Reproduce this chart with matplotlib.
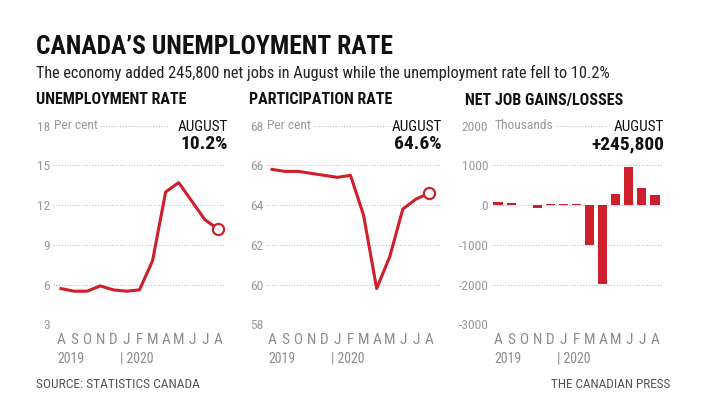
import matplotlib
matplotlib.use("Agg")
import matplotlib.pyplot as plt
from matplotlib import font_manager

months = ["A", "S", "O", "N", "D", "J", "F", "M", "A", "M", "J", "J", "A"]
unemployment = [5.7, 5.5, 5.5, 5.9, 5.6, 5.5, 5.6, 7.8, 13.0, 13.7, 12.3, 10.9, 10.2]
participation = [65.8, 65.7, 65.7, 65.6, 65.5, 65.4, 65.5, 63.5, 59.8, 61.4, 63.8, 64.3, 64.6]
net_jobs = [81, 54, -2, -71, 35, 34, 30, -1011, -1994, 290, 953, 419, 246]

unemp_ticks = [3, 6, 9, 12, 15, 18]
part_ticks = [58, 60, 62, 64, 66, 68]
jobs_ticks = [-3000, -2000, -1000, 0, 1000, 2000]

# narrow face if there is one, else Roboto
names = {f.name for f in font_manager.fontManager.ttflist}
fam = "Roboto"
for cand in ["Roboto Condensed", "Liberation Sans Narrow", "Open Sans Condensed"]:
    if cand in names:
        fam = cand
        break
plt.rcParams["font.family"] = [fam, "DejaVu Sans"]

W, H = 711, 405
RED = "#cf1f2d"
GRID = "#bdbdbd"
TICK = "#9a9a9a"
MONTH = "#8c8c8c"

fig = plt.figure(figsize=(W / 100, H / 100), dpi=100)


def fx(x):
    return x / W


def fy(y):
    return 1 - y / H


def txt(x, y, s, **kw):
    kw.setdefault("va", "center")
    return fig.text(fx(x), fy(y), s, **kw)


# title block
txt(36, 47, "CANADA\u2019S UNEMPLOYMENT RATE", size=18.4, weight="bold", color="#111111")
txt(36, 73, "The economy added 245,800 net jobs in August while the unemployment rate fell to 10.2%",
    size=11.7, color="#222222")

top_px, bot_px = 125.7, 324.3
step = 13.08

panels = [
    # header, x header, left, right, first label x, ticks, data, unit, unit x, dotted x0, x1, big value, kind
    ("UNEMPLOYMENT RATE", 36, 53, 226, 61, unemp_ticks, unemployment, "Per cent", 54, 100, 168, "10.2%", "line"),
    ("PARTICIPATION RATE", 249, 266, 440, 272, part_ticks, participation, "Per cent", 267, 313, 389, "64.6%", "line"),
    ("NET JOB GAINS/LOSSES", 465, 491, 662, 498, jobs_ticks, net_jobs, "Thousands", 495, 557, 607, "+245,800", "bar"),
]

for (head, hx, left, right, first, ticks, data, unit, ux, d0, d1, big, kind) in panels:
    txt(hx, 100, head, size=11.5, weight="bold", color="#111111")
    ax = fig.add_axes([fx(left), fy(bot_px), (right - left) / W, (bot_px - top_px) / H])
    ax.set_xlim((left - first) / step, (right - first) / step)
    ax.set_ylim(ticks[0], ticks[-1])
    for t in ticks[:-1]:
        ax.axhline(t, color=GRID, ls=(0, (1, 1.5)), lw=0.8, zorder=0)
    ax.axhline(ticks[-1], xmin=(d0 - left) / (right - left), xmax=(d1 - left) / (right - left),
               color=GRID, ls=(0, (1, 1.5)), lw=0.8, zorder=0)
    for s in ax.spines.values():
        s.set_visible(False)
    ax.set_yticks(ticks)
    ax.set_yticklabels([str(t) for t in ticks])
    ax.set_xticks(range(len(months)))
    ax.set_xticklabels(months)
    ax.tick_params(axis="y", length=0, pad=2, labelsize=9.7, labelcolor=TICK)
    ax.tick_params(axis="x", length=0, pad=6, labelsize=11, labelcolor=MONTH)
    ax.patch.set_visible(False)

    x = list(range(len(data)))
    if kind == "line":
        ax.plot(x, data, color=RED, lw=2.2, zorder=3)
        ax.plot(x[-1], data[-1], "o", ms=8, mfc="white", mec=RED, mew=1.6, zorder=4, clip_on=False)
    else:
        ax.bar(x, data, width=0.7, color=RED, zorder=3)

    txt(ux, top_px, unit, size=9.7, color=TICK)
    txt(right + 2, 127, "AUGUST", size=10.9, ha="right", color="#111111")
    txt(right + 2, 144, big, size=14, weight="bold", ha="right", color="#111111")

    # year labels
    txt(first - 4, 359, "2019", size=10, color=MONTH)
    txt(first + step * 4.5, 359, "| 2020", size=10, color=MONTH)

txt(36, 385, "SOURCE: STATISTICS CANADA", size=9.7, color="#555555")
txt(670, 385, "THE CANADIAN PRESS", size=9.5, ha="right", color="#555555")

fig.savefig("out.png", dpi=100)
